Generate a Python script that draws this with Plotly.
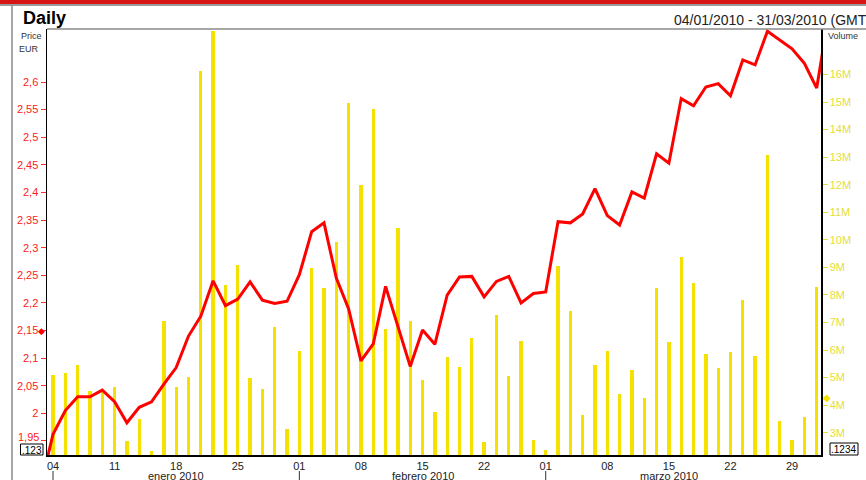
import pandas as pd
import plotly.graph_objects as go

# ---------------- data ----------------
dates = pd.bdate_range("2010-01-04", "2010-03-31")  # trading days (63)

price = [
    1.962, 2.005, 2.030, 2.030, 2.042, 2.021, 1.983, 2.011, 2.021, 2.053,
    2.083, 2.140, 2.176, 2.240, 2.195, 2.207, 2.238, 2.205, 2.199, 2.203,
    2.251, 2.329, 2.345, 2.245, 2.189, 2.095, 2.126, 2.230, 2.157, 2.085,
    2.151, 2.125, 2.214, 2.247, 2.248, 2.211, 2.239, 2.248, 2.200, 2.217,
    2.220, 2.347, 2.345, 2.361, 2.407, 2.358, 2.341, 2.401, 2.390, 2.470,
    2.453, 2.570, 2.557, 2.591, 2.597, 2.575, 2.640, 2.631, 2.692, 2.676,
    2.660, 2.634, 2.589,
]
price_before = 1.869   # 31/12/2009, clipped at the left edge
price_after = 2.725    # 01/04/2010, clipped at the right edge

volume_m = [
    5.09, 5.18, 5.46, 4.52, 4.50, 4.65, 2.69, 3.51, 2.34, 7.07,
    4.65, 5.03, 16.14, 17.58, 8.36, 9.10, 4.97, 4.59, 6.83, 3.12,
    5.95, 8.98, 8.24, 9.92, 14.97, 11.99, 14.74, 6.76, 10.44, 7.07,
    4.91, 3.74, 5.74, 5.38, 6.45, 2.65, 7.27, 5.06, 6.33, 2.73,
    2.38, 9.04, 7.42, 3.63, 5.47, 5.97, 4.42, 5.28, 4.26, 8.24,
    6.29, 9.38, 8.44, 5.85, 5.34, 5.94, 7.83, 5.77, 13.08, 3.41,
    2.73, 3.58, 8.28,
]

price_ticks = [1.95, 2.0, 2.05, 2.1, 2.15, 2.2, 2.25, 2.3, 2.35, 2.4, 2.45, 2.5, 2.55, 2.6]
price_ticktext = ["1,95", "2", "2,05", "2,1", "2,15", "2,2", "2,25", "2,3", "2,35",
                  "2,4", "2,45", "2,5", "2,55", "2,6"]
volume_ticks_m = [3, 4, 5, 6, 7, 8, 9, 10, 11, 12, 13, 14, 15, 16]
month_labels = ["enero 2010", "febrero 2010", "marzo 2010"]
price_marker = 2.15
volume_marker_m = 4.27

# ---------------- derived ----------------
n = len(dates)
idx = list(range(n))
volume = [v * 1e6 for v in volume_m]
line_x = [-1] + idx + [n]
line_y = [price_before] + price + [price_after]

mondays = [i for i, d in enumerate(dates) if d.weekday() == 0]
monday_text = [dates[i].strftime("%d") for i in mondays]
month_first = [i for i in idx if i == 0 or dates[i].month != dates[i - 1].month]
month_mid = [mondays[2], mondays[6], mondays[10]]

W, H = 866, 480
L, R, T, B = 47, 821, 29, 455


def px(x):
    return (x - L) / (R - L)


def py(y):
    return (B - y) / (B - T)


FONT = "Liberation Sans, Arial, sans-serif"
RED = "#FF0000"
YEL = "#F5E100"
YEL_TXT = "#E4DE3A"
RED_TXT = "#FF2020"

# lowest price label sits just above the value box, as in the original
axis_ticktext = [""] + price_ticktext[1:]

fig = go.Figure()
fig.add_trace(go.Bar(x=idx, y=volume, width=0.27, marker=dict(color=YEL, line=dict(width=0)),
                     yaxis="y", hoverinfo="skip", showlegend=False))
fig.add_trace(go.Scatter(x=line_x, y=line_y, mode="lines", line=dict(color=RED, width=3),
                         yaxis="y2", showlegend=False))

xr0 = -6 / 12.32
xr1 = (n - 1) + 4.3 / 12.32

fig.update_layout(
    width=W, height=H,
    margin=dict(l=L, r=W - R, t=T, b=H - B, pad=0),
    paper_bgcolor="white", plot_bgcolor="white",
    font=dict(family=FONT, size=11, color="black"),
    bargap=0,
    xaxis=dict(range=[xr0, xr1], tickmode="array", tickvals=mondays, ticktext=monday_text,
               showgrid=False, zeroline=False, showline=True, linecolor="black", linewidth=1.5,
               ticks="", tickfont=dict(size=11, color="#222"), fixedrange=True, automargin=False),
    yaxis=dict(range=[2.19e6, 17.65e6], side="right", tickmode="array",
               tickvals=[v * 1e6 for v in volume_ticks_m],
               ticktext=[f"{v}M" for v in volume_ticks_m],
               showgrid=False, zeroline=False, showline=True, linecolor="black", linewidth=1.5,
               ticks="outside", ticklen=5, tickcolor=YEL_TXT, automargin=False,
               tickfont=dict(size=11, color=YEL_TXT)),
    yaxis2=dict(range=[1.9246, 2.696], side="left", overlaying="y", tickmode="array",
                tickvals=price_ticks, ticktext=axis_ticktext, automargin=False,
                showgrid=False, zeroline=False, showline=True, linecolor="black", linewidth=1.5,
                ticks="outside", ticklen=5, tickcolor="#FF3030",
                tickfont=dict(size=11, color=RED_TXT)),
)

shapes = [
    dict(type="rect", xref="paper", yref="paper", x0=px(0), x1=px(W), y0=py(0), y1=py(4),
         fillcolor="#D81515", line=dict(width=0)),
    dict(type="line", xref="paper", yref="paper", x0=px(0), x1=px(W), y0=py(5), y1=py(5),
         line=dict(color="#7a7a7a", width=1.5)),
    dict(type="line", xref="paper", yref="paper", x0=px(12), x1=px(12), y0=py(5), y1=py(H),
         line=dict(color="#8a8a8a", width=1.5)),
    dict(type="line", xref="paper", yref="paper", x0=px(L), x1=px(W), y0=py(T), y1=py(T),
         line=dict(color="#8a8a8a", width=1.5)),
    dict(type="rect", xref="paper", yref="paper", x0=px(20.5), x1=px(43), y0=py(444), y1=py(455),
         line=dict(color="black", width=1), fillcolor="white"),
    dict(type="rect", xref="paper", yref="paper", x0=px(830), x1=px(858), y0=py(443), y1=py(455),
         line=dict(color="black", width=1), fillcolor="white"),
]
for i in month_first:
    shapes.append(dict(type="line", xref="x", yref="paper", x0=i, x1=i, y0=py(471), y1=py(480),
                       line=dict(color="#333", width=1)))
fig.update_layout(shapes=shapes)

ann = [
    dict(text="<b>Daily</b>", x=px(21), y=py(18), xanchor="left", yanchor="middle",
         font=dict(size=18, color="black")),
    dict(text="04/01/2010 - 31/03/2010 (GMT)", x=px(672), y=py(20), xanchor="left", yanchor="middle",
         font=dict(size=14, color="#222")),
    dict(text="Price", x=px(44), y=py(36), xanchor="right", yanchor="middle",
         font=dict(size=9, color="#333")),
    dict(text="EUR", x=px(41), y=py(49), xanchor="right", yanchor="middle",
         font=dict(size=9, color="#333")),
    dict(text="Volume", x=px(826), y=py(36), xanchor="left", yanchor="middle",
         font=dict(size=9, color="#333")),
    dict(text=".123", x=px(31.5), y=py(450), xanchor="center", yanchor="middle",
         font=dict(size=10, color="black")),
    dict(text=".1234", x=px(844), y=py(449.5), xanchor="center", yanchor="middle",
         font=dict(size=10, color="black")),
    dict(text=price_ticktext[0], x=px(41), y=py(437), xanchor="right", yanchor="middle",
         font=dict(size=11, color=RED_TXT)),
]
for i, lab in zip(month_mid, month_labels):
    ann.append(dict(text=lab, xref="x", x=i, y=py(476), xanchor="center", yanchor="middle",
                    font=dict(size=11, color="#222")))
ann.append(dict(text="◆", xref="paper", yref="y2", x=px(41.5), y=price_marker,
                xanchor="center", yanchor="middle", font=dict(size=9, color=RED,
                                                               family="DejaVu Sans")))
ann.append(dict(text="◆", xref="paper", yref="y", x=px(826.7), y=volume_marker_m * 1e6,
                xanchor="center", yanchor="middle", font=dict(size=10, color=YEL,
                                                               family="DejaVu Sans")))
for a in ann:
    a.setdefault("xref", "paper")
    a.setdefault("yref", "paper")
    a["showarrow"] = False
fig.update_layout(annotations=ann)

fig.write_html("out.html", config={"displayModeBar": False, "staticPlot": True},
               post_script="document.body.style.margin='0';document.body.style.overflow='hidden';")
